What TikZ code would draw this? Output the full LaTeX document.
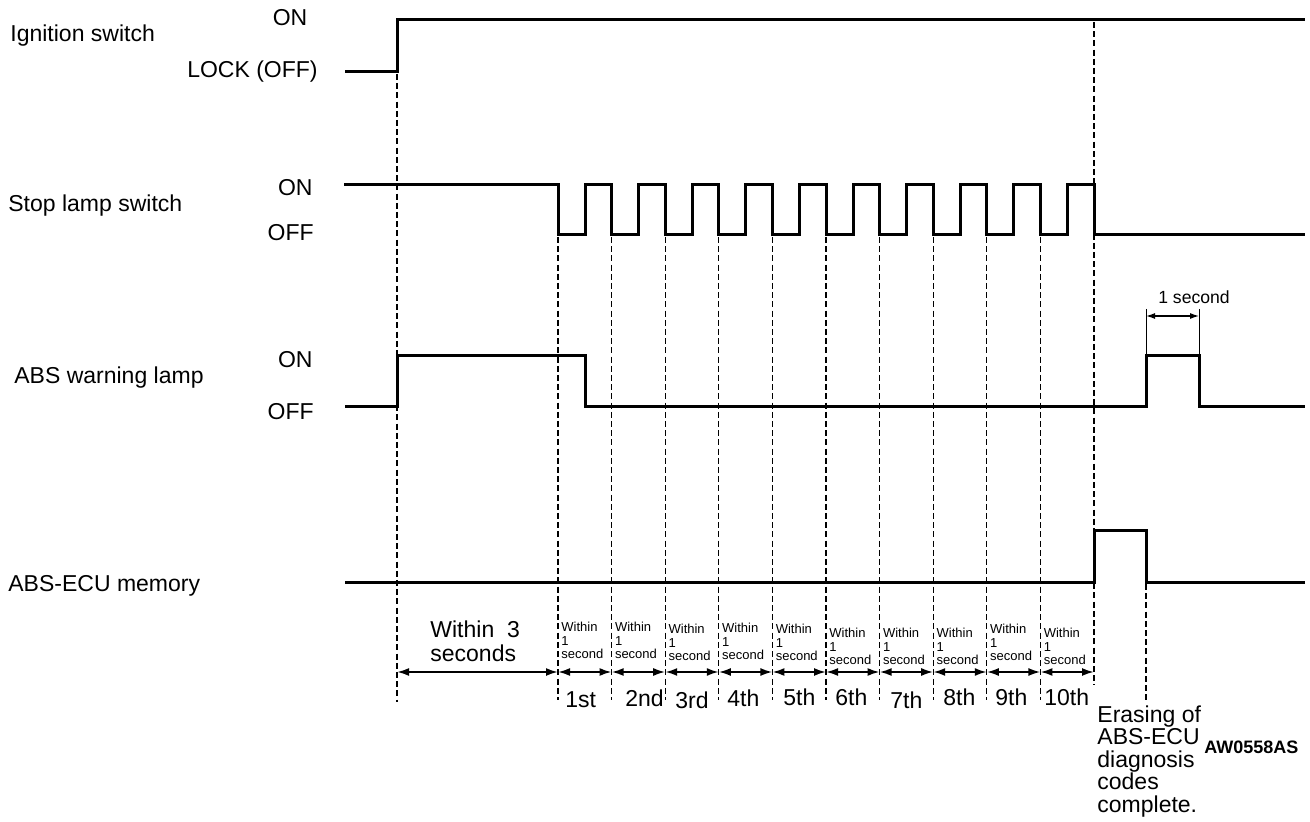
\documentclass[tikz,border=0pt]{standalone}
\usepackage{fontspec}
\setmainfont{Liberation Sans}
\usetikzlibrary{arrows.meta, positioning, calc}
\tikzstyle{span} = [line width=1pt, {Latex[length=6pt,width=4pt]}-{Latex[length=6pt,width=4pt]}]

\begin{document}
\begin{tikzpicture}[
	x=0.5pt, y=-0.5pt,
	every node/.style={font=\fontsize{11.5}{13}\selectfont, inner sep=0pt},
	wave/.style={line width=1.5pt, line join=miter},
	guide/.style={line width=0.6pt, dash pattern=on 3pt off 1.6pt},
	small/.style={font=\fontsize{6.5}{6.6}\selectfont, align=left},
	erase/.style={align=left, font=\fontsize{11.5}{11.3}\selectfont}
]
\useasboundingbox (0,0) rectangle (1310,822);

% Signal names and levels
\node[anchor=west] (ign) at (10,36) {Ignition switch};
\node (ignOn) at (290,18) {ON};
\node[anchor=east] (ignOff) at (318,72) {LOCK (OFF)};
\node[anchor=west] (stop) at (8,206) {Stop lamp switch};
\node[anchor=east] (stopOn) at (313,188) {ON};
\node[anchor=east] (stopOff) at (314,233) {OFF};
\node[anchor=west] (warn) at (14,378) {ABS warning lamp};
\node[anchor=east] (warnOn) at (313,360) {ON};
\node[anchor=east] (warnOff) at (314,412) {OFF};
\node[anchor=west] (mem) at (8,586) {ABS-ECU memory};

% Traces
\draw[wave] (345,72) -- (397,72) -- (397,20) -- (1305,20);
\draw[wave] (344,185) \foreach \i in {0,...,9} {
	-- ({558+53.6*\i},185) -- ({558+53.6*\i},235)
	-- ({585+53.6*\i},235) -- ({585+53.6*\i},185)}
	-- (1094,185) -- (1094,235) -- (1305,235);
\draw[wave] (345,407) -- (397,407) -- (397,356) -- (585,356) -- (585,407)
	-- (1146,407) -- (1146,356) -- (1199,356) -- (1199,407) -- (1305,407);
\draw[wave] (345,582) -- (1094,582) -- (1094,531) -- (1146,531) -- (1146,582) -- (1305,582);

% Dashed time marks
\draw[guide] (397,74) -- (397,702);
\foreach \i in {0,...,9}
	\draw[guide] ({558+53.6*\i},237) -- ({558+53.6*\i},700);
\draw[guide] (1094,22) -- (1094,685);
\draw[guide] (1146,584) -- (1146,702);

% Time spans
\coordinate (t0) at (397,672);
\foreach \i in {1,...,11}
	\coordinate (t\i) at ({558+53.6*(\i-1)},672);
\draw[span] (t0) -- (t1);
\foreach \i [evaluate=\i as \j using int(\i+1)] in {1,...,10}
	\draw[span] (t\i) -- (t\j);

\node[align=left, anchor=north west, font=\fontsize{11.5}{12}\selectfont] (three) at (430,620) {Within~~3\\seconds};
\foreach \dy [count=\i from 0] in {0,0,2,1,2,6,6,6,2,6}
	\node[small, anchor=north west] (w\i) at ({561+53.6*\i},{622+\dy}) {Within\\1\\second};
\foreach \xx/\yy/\t [count=\n] in {565/699/1st, 625/698/2nd, 675/700/3rd, 727/698/4th, 783/697/5th,
	835/697/6th, 890/700/7th, 943/697/8th, 995/697/9th, 1044/697/10th}
	\node[anchor=base west] (ord\n) at (\xx,{\yy+8}) {\t};

% One second mark on the warning lamp
\coordinate (secL) at (1146,316);
\coordinate (secR) at (1199,316);
\draw[line width=0.4pt] (1146,309) -- (1146,355) (1199,309) -- (1199,355);
\draw[line width=0.6pt, {Latex[length=4.5pt,width=3pt]}-{Latex[length=4.5pt,width=3pt]}] (secL) -- (secR);
\node[font=\fontsize{8.8}{10}\selectfont] (sec) at (1194,297) {1 second};

% Notes
\node[erase, anchor=north west] (done) at (1097,705) {Erasing of\\ABS-ECU\\diagnosis\\codes\\complete.};
\node[anchor=west, font=\fontsize{9}{10}\selectfont\bfseries] (code) at (1204,747) {AW0558AS};

\end{tikzpicture}
\end{document}
